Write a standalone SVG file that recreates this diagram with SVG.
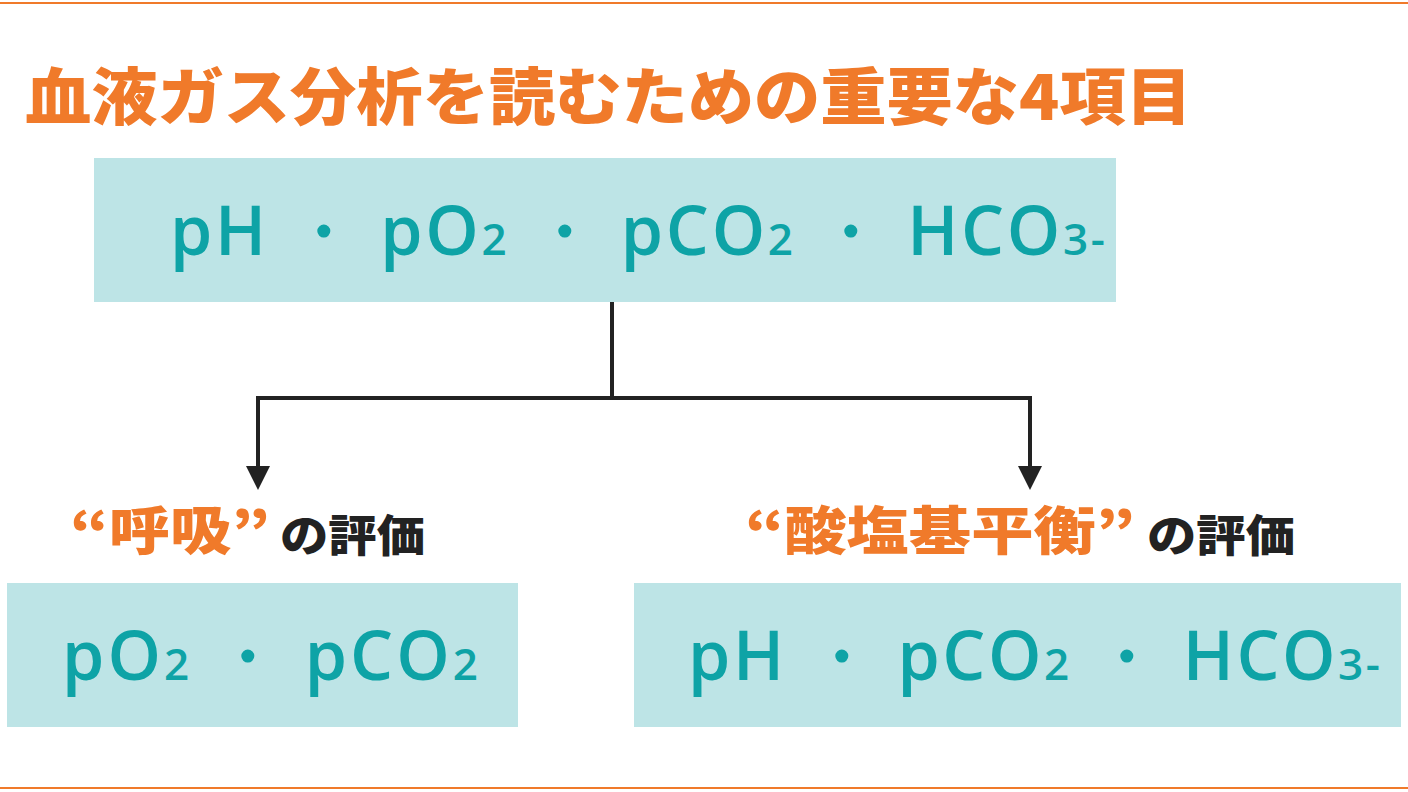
<svg xmlns="http://www.w3.org/2000/svg" width="1408" height="792" viewBox="0 0 1408 792">
<style>
.box{fill:#bde4e6}
.t{font-family:"Open Sans","Noto Sans",sans-serif;fill:#0ea3a6;font-size:68px;font-weight:600}
.s{font-size:44px}
.o{font-family:"Noto Sans CJK JP",sans-serif;font-weight:900;fill:#f07a2a}
.k{font-family:"Noto Sans CJK JP",sans-serif;font-weight:900;fill:#222;font-size:44px}
.c{stroke:#222;stroke-width:4;fill:none}
.ah{fill:#222}
</style>
<rect width="1408" height="792" fill="#fff"/>
<line x1="0" y1="3" x2="1408" y2="3" stroke="#f07a2a" stroke-width="2"/>
<line x1="0" y1="788" x2="1408" y2="788" stroke="#f07a2a" stroke-width="2"/>
<text class="o" x="25" y="120" font-size="62" textLength="1167" lengthAdjust="spacingAndGlyphs">血液ガス分析を読むための重要な4項目</text>
<g id="n1"><rect class="box" x="94" y="158" width="1022" height="144"/>
<text class="t" x="170" y="255" textLength="935" lengthAdjust="spacing">pH ・ pO<tspan class="s">2</tspan> ・ pCO<tspan class="s">2</tspan> ・ HCO<tspan class="s">3-</tspan></text></g>
<g id="connectors">
<path class="c" d="M612,302 V398 M258,398 H1030 M258,396 V470 M1030,396 V470"/>
<polygon class="ah" points="246,466 270,466 258,490"/>
<polygon class="ah" points="1018,466 1042,466 1030,490"/>
</g>
<g id="l1"><text class="o" x="70" y="550" font-size="52" textLength="200" lengthAdjust="spacingAndGlyphs">“呼吸”</text><text class="k" x="280" y="552" textLength="145" lengthAdjust="spacingAndGlyphs">の評価</text></g>
<g id="l2"><text class="o" x="745" y="550" font-size="52" textLength="390" lengthAdjust="spacingAndGlyphs">“酸塩基平衡”</text><text class="k" x="1147" y="552" textLength="148" lengthAdjust="spacingAndGlyphs">の評価</text></g>
<g id="n2"><rect class="box" x="7" y="583" width="511" height="144"/>
<text class="t" x="62" y="680" textLength="416" lengthAdjust="spacing">pO<tspan class="s">2</tspan> ・ pCO<tspan class="s">2</tspan></text></g>
<g id="n3"><rect class="box" x="634" y="583" width="767" height="144"/>
<text class="t" x="688" y="680" textLength="692" lengthAdjust="spacing">pH ・ pCO<tspan class="s">2</tspan> ・ HCO<tspan class="s">3-</tspan></text></g>
</svg>
